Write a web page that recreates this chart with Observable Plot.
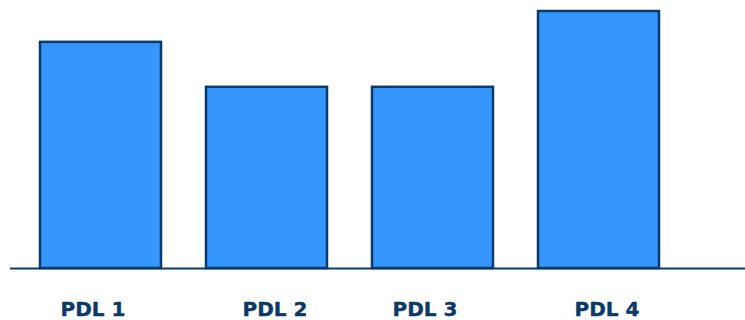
<!DOCTYPE html>
<html>
<head>
<meta charset="utf-8">
<script src="https://cdn.jsdelivr.net/npm/d3@7"></script>
<script src="https://cdn.jsdelivr.net/npm/@observablehq/plot@0.6"></script>
<style>
  html, body { margin: 0; padding: 0; background: #ffffff; }
</style>
</head>
<body>
<div id="chart"></div>
<script>
// Categories and their values
const categories = ["PDL 1", "PDL 2", "PDL 3", "PDL 4"];
const values = [88, 70.5, 70.5, 100];

const data = categories.map((name, i) => ({ name, value: values[i] }));

const ink = "#0b3a69";
const font = "DejaVu Sans, Verdana, sans-serif";

// Labels alternate slightly left/right of each bar centre
const leftLabels = data.filter((d, i) => i % 2 === 0);
const rightLabels = data.filter((d, i) => i % 2 === 1);

const labelStyle = {
  x: "name",
  text: "name",
  frameAnchor: "bottom",
  lineAnchor: "top",
  dy: 33,
  fill: ink,
  stroke: ink,
  strokeWidth: 0.4,
  fontSize: 20,
  fontWeight: "bold",
  fontFamily: font
};

const chart = Plot.plot({
  width: 745,
  height: 320,
  marginLeft: 10,
  marginRight: 0,
  marginTop: 11,
  marginBottom: 52,
  style: { background: "#ffffff", fontFamily: font },
  x: { domain: categories, paddingInner: 0.27, paddingOuter: 0.336, align: 0.26, axis: null },
  y: { domain: [0, 100], axis: null },
  marks: [
    Plot.barY(data, { x: "name", y: "value", fill: "#3596fe", stroke: ink, strokeWidth: 2.5 }),
    Plot.ruleY([0], { stroke: ink, strokeWidth: 2 }),
    Plot.text(leftLabels, { ...labelStyle, dx: -8 }),
    Plot.text(rightLabels, { ...labelStyle, dx: 8 })
  ]
});

document.getElementById("chart").append(chart);
</script>
</body>
</html>
